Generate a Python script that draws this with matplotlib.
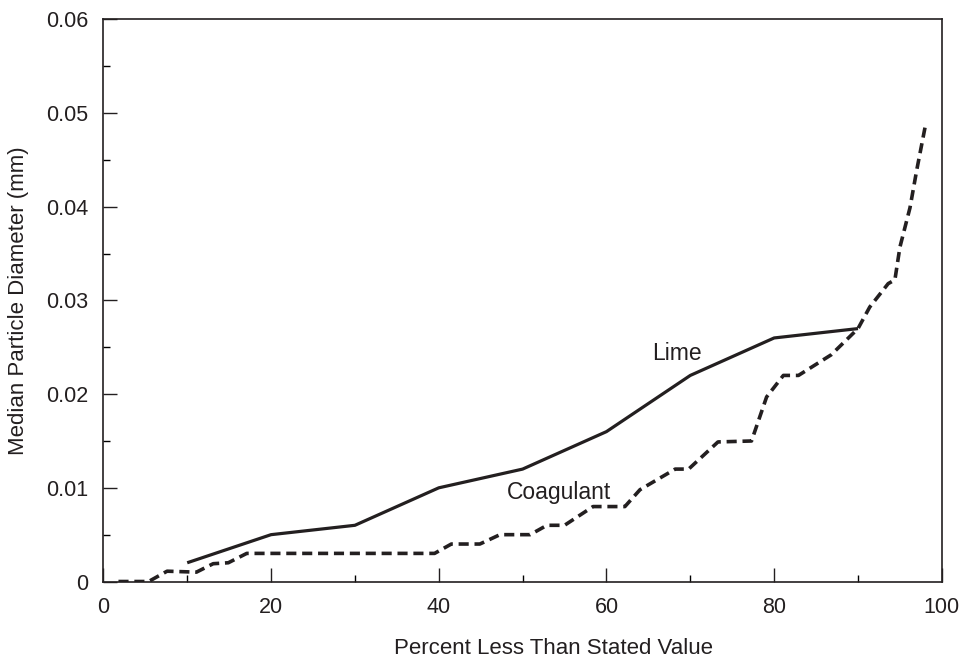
import matplotlib
matplotlib.use("Agg")
import matplotlib.pyplot as plt
from matplotlib.ticker import MultipleLocator

plt.rcParams['font.family'] = ['Liberation Sans', 'DejaVu Sans']

lime_x = [10, 20, 30, 40, 50, 60, 70, 80, 90]
lime_y = [0.002, 0.005, 0.006, 0.010, 0.012, 0.016, 0.022, 0.026, 0.027]

coag_x = [1.8, 5.4, 7.6, 11.1, 13.1, 14.9, 17.1, 39.5, 41.5, 44.9, 47.3, 50.9, 52.9,
          55.0, 58.4, 62.2, 64.0, 68.2, 69.8, 73.3, 77.3, 79.1, 81.1, 82.9, 86.8,
          90.0, 91.4, 93.6, 94.4, 95.0, 96.2, 97.0, 98.0]
coag_y = [0.0, 0.0, 0.0011, 0.001, 0.0019, 0.002, 0.003, 0.003, 0.004, 0.004, 0.005,
          0.005, 0.006, 0.006, 0.008, 0.008, 0.0098, 0.012, 0.012, 0.0149, 0.015,
          0.0197, 0.022, 0.022, 0.0242, 0.027, 0.0293, 0.0318, 0.0322, 0.0357,
          0.0399, 0.0439, 0.0485]

fig = plt.figure(figsize=(9.66, 6.62), dpi=100)
ax = fig.add_axes([0.107, 0.1216, 0.868, 0.849])

ax.plot(lime_x, lime_y, color='#231f20', lw=2.3, solid_capstyle='butt')
ax.plot(coag_x, coag_y, color='#231f20', lw=2.6, dashes=(2.8, 1.6))

ax.text(68.4, 0.0243, 'Lime', fontsize=16.5, ha='center', va='center', color='#231f20')
ax.text(54.3, 0.0095, 'Coagulant', fontsize=16.5, ha='center', va='center', color='#231f20')

ax.set_xlim(0, 100)
ax.set_ylim(0, 0.06)
ax.xaxis.set_major_locator(MultipleLocator(20))
ax.xaxis.set_minor_locator(MultipleLocator(10))
ax.yaxis.set_minor_locator(MultipleLocator(0.005))
ax.set_yticks([0, 0.01, 0.02, 0.03, 0.04, 0.05, 0.06])
ax.set_yticklabels(['0', '0.01', '0.02', '0.03', '0.04', '0.05', '0.06'])
ax.tick_params(which='major', direction='in', length=10, width=1, labelsize=15.5, pad=11, colors='#231f20')
ax.tick_params(which='minor', direction='in', length=5, width=1)
ax.tick_params(axis='both', which='both', top=False, right=False)
for s in ax.spines.values():
    s.set_linewidth(1.2)
    s.set_color('#231f20')

ax.set_xlabel('Percent Less Than Stated Value', fontsize=16, color='#231f20', va='center')
ax.set_ylabel('Median Particle Diameter (mm)', fontsize=16, color='#231f20', va='center')
ax.xaxis.set_label_coords(0.537, -0.12)
ax.yaxis.set_label_coords(-0.1017, 0.5)

fig.savefig('out.png', dpi=100)
